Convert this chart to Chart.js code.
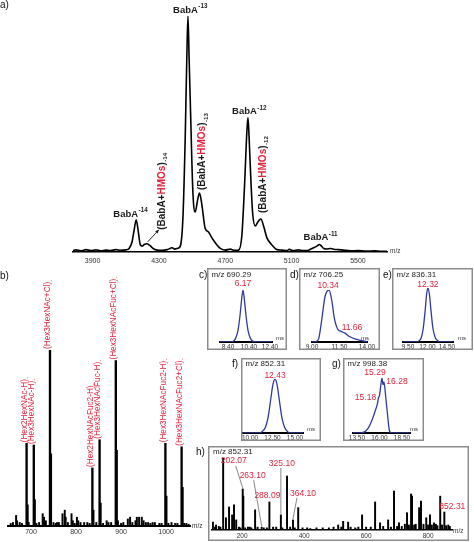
<!DOCTYPE html>
<html>
<head>
<meta charset="utf-8">
<title>BabA native MS and HMO IM-MS</title>
<script src="https://cdn.jsdelivr.net/npm/chart.js@4.4.1/dist/chart.umd.min.js"></script>
<style>
  body { margin: 0; background: #fff; }
  #fig { position: relative; width: 474px; height: 542px; overflow: hidden; font-family: "Liberation Sans", Arial, sans-serif; }
  #fig canvas { position: absolute; }
  .tag { position: absolute; font-size: 10px; line-height: 10px; color: #111; }
</style>
</head>
<body>
<div id="fig">
  <canvas id="pa"></canvas>
  <canvas id="pb"></canvas>
  <canvas id="pc"></canvas>
  <canvas id="pd"></canvas>
  <canvas id="pe"></canvas>
  <canvas id="pf"></canvas>
  <canvas id="pg"></canvas>
  <canvas id="ph"></canvas>
  <div class="tag" style="left:0;top:0">a)</div>
  <div class="tag" style="left:0;top:271px">b)</div>
  <div class="tag" style="left:199px;top:270px">c)</div>
  <div class="tag" style="left:290px;top:270px">d)</div>
  <div class="tag" style="left:383px;top:270px">e)</div>
  <div class="tag" style="left:232px;top:359px">f)</div>
  <div class="tag" style="left:332px;top:359px">g)</div>
  <div class="tag" style="left:196px;top:447px">h)</div>
</div>
<script>
// a) native MS of BabA (traced from the spectrum)
const specA_mz = [3782, 3800, 3830, 3860, 3890, 3920, 3950, 3980, 4010, 4040, 4070, 4100, 4120, 4137, 4150, 4163, 4175, 4188, 4200, 4212,
  4227, 4245, 4265, 4290, 4320, 4350, 4370, 4380, 4395, 4415, 4429, 4445, 4459, 4468, 4475, 4482, 4489, 4505, 4519, 4533,
  4545, 4559, 4579, 4599, 4615, 4629, 4650, 4670, 4700, 4730, 4755, 4780, 4800, 4816, 4831, 4837, 4844, 4851, 4865, 4881,
  4895, 4905, 4915, 4931, 4951, 4981, 5012, 5040, 5073, 5085, 5110, 5140, 5170, 5193, 5223, 5253, 5267, 5280, 5293, 5313,
  5333, 5353, 5380, 5410, 5453, 5500, 5550, 5600, 5640, 5675];
const specA_int = [0.6, 0.9, 0.5, 1.0, 0.6, 0.9, 0.5, 0.8, 0.6, 1.0, 0.7, 0.9, 1.5, 4, 9, 13.6, 9, 3, 2.5, 3.2,
  3.5, 2.8, 1.5, 0.8, 0.7, 1.0, 1.6, 1.8, 1.2, 1.6, 2.5, 15, 50, 82, 100, 82, 64, 25, 17, 22,
  25, 20, 10, 8.5, 6.5, 5, 3, 1.5, 0.8, 1.2, 0.7, 0.8, 7, 28, 52, 57, 48, 36, 16.5, 11,
  12.5, 13.5, 14, 11, 6, 3, 1, 0.8, 0.6, 1.1, 0.6, 0.9, 0.6, 0.6, 1.5, 2.5, 3.2, 2.5, 1.5, 1.3,
  1.5, 1.2, 1.0, 0.8, 0.5, 0.6, 0.4, 0.5, 0.3, 0.3];
const specA_ticks = [3900, 4300, 4700, 5100, 5500];
const babA_mz = [4163, 4475, 4837, 5267];
const babA_int = [13.6, 100, 57, 3.2];
const babA_z = ['-14', '-13', '-12', '-11'];
const hmo_mz = [4227, 4545, 4915];
const hmo_int = [3.5, 25, 14];
const hmo_z = ['-14', '-13', '-12'];

// b) HMO region
const specB_mz = [690.29, 692.3, 706.25, 708.2, 742.2, 744.2, 836.31, 838.3, 852.31, 854.3, 888.3, 890.3, 998.38, 1000.4, 1034.4, 1036.4];
const specB_int = [47, 12, 46, 15, 100, 41, 33, 9, 49, 13, 94, 43, 47, 17, 45, 22];
const minorB_mz = [655, 660, 667, 669, 675, 680, 695, 712, 718, 726, 729, 733, 750, 755, 758, 762, 770, 775, 777, 782,
  790, 793, 797, 802, 805, 810, 818, 825, 830, 845, 860, 868, 872, 878, 893, 900, 905, 915, 920, 925,
  932, 935, 940, 946, 950, 955, 960, 965, 970, 975, 985, 990, 1005, 1012, 1020, 1025, 1040, 1045, 1050];
const minorB_int = [1.5, 2, 6, 3, 2, 1.5, 2, 1.5, 2, 7, 5, 3, 2, 1.5, 2, 2, 7, 9, 5, 2,
  7, 3, 1.5, 5, 3, 2, 2, 2, 1.5, 2, 1.5, 3, 2, 2, 3, 1.5, 2, 4, 5, 2,
  3, 5, 5, 5, 3, 2, 2, 1.5, 2, 2, 1.5, 1.5, 1.5, 2, 1.5, 1.5, 1.5, 1.5, 1];
const specB_ticks = [700, 800, 900, 1000];
const labB_mz = [690.29, 706.25, 742.2, 836.31, 852.31, 888.3, 998.38, 1034.4];
const labB_txt = ['(Hex2HexNAc-H)', '(Hex3HexNAc-H)', '(Hex3HexNAc+Cl)', '(Hex2HexNAcFuc2-H)',
  '(Hex3HexNAcFuc-H)', '(Hex3HexNAcFuc+Cl)', '(Hex3HexNAcFuc2-H)', '(Hex3HexNAcFuc2+Cl)'];

// c-g) arrival time distributions
const atdC_ms = [7.64, 8.5, 8.85, 9.1, 9.35, 9.55, 9.7, 9.83, 9.96, 10.11, 10.31, 10.56, 10.81, 11.2, 12.59];
const atdC_int = [0, 0, 1, 6, 22, 52, 82, 100, 82, 52, 22, 6, 1, 0, 0];
const atdD_ms = [9.0, 9.3, 9.6, 9.88, 10.18, 10.55, 10.79, 11.03, 11.33, 11.7, 12.0, 12.45, 13.06, 13.67, 14.0];
const atdD_int = [0, 0.5, 6, 42, 87, 100, 81, 46, 25, 20, 17, 10, 5, 2, 0.5];
const atdE_ms = [8.86, 10.6, 10.9, 11.2, 11.45, 11.7, 11.9, 12.06, 12.25, 12.45, 12.7, 13.0, 13.35, 13.7, 15.27];
const atdE_int = [0, 0, 2, 8, 25, 58, 90, 100, 88, 58, 25, 8, 2, 0, 0];
const atdF_ms = [9.22, 10.9, 11.3, 11.7, 12.0, 12.3, 12.55, 12.78, 13.0, 13.25, 13.55, 13.85, 14.2, 14.6, 15.89];
const atdF_int = [0, 0, 2, 10, 28, 62, 90, 100, 90, 62, 28, 10, 2, 0, 0];
const atdG_ms = [13.06, 14.0, 14.67, 15.11, 15.44, 15.78, 15.89, 16.0, 16.11, 16.28, 16.39, 16.5, 16.67, 16.89, 17.11, 17.33, 19.39];
const atdG_int = [0, 0, 7, 21, 36, 54, 64, 68, 82, 100, 88, 93, 70, 34, 4, 0, 0];
const ticksC = [8.4, 10.4, 12.4], ticksD = [9, 11.5, 14], ticksE = [9.5, 12, 14.5], ticksF = [10, 12.5, 15], ticksG = [13.5, 16, 18.5];

// h) MS/MS of m/z 852.31
const specH_mz = [106, 112, 116, 125, 130, 139, 148, 158, 168, 174, 181, 190, 195, 202.07, 204, 210, 219, 225, 230, 242,
  250, 263.1, 270, 280, 288.09, 300, 310, 325.1, 330, 345, 355, 364.1, 370, 381, 395, 410, 420, 440, 460, 480,
  495, 510, 520, 526, 542, 550, 565, 575, 587, 600, 615, 629, 645, 655, 671, 680, 690, 700, 706, 715,
  725, 732, 738, 745, 748, 755, 760, 771, 777, 785, 794, 800, 806, 812, 819, 825, 830, 839, 845, 852.31,
  858, 865, 870];
const specH_int = [11, 4, 7, 5, 4, 100, 17, 32, 21, 35, 14, 4, 3, 57, 47, 3, 4, 4, 3, 28,
  4, 4, 3, 3, 39, 4, 4, 21, 3, 75, 4, 14, 3, 31, 3, 3, 2, 3, 3, 3,
  4, 7, 4, 12, 11, 4, 3, 4, 21, 4, 4, 39, 10, 5, 14, 4, 54, 5, 10, 5,
  8, 24, 7, 50, 47, 7, 8, 31, 40, 8, 17, 7, 21, 7, 10, 8, 6, 47, 7, 25,
  6, 7, 5];
const specH_ticks = [200, 400, 600, 800];
const labH_mz = [202.07, 263.1, 288.09, 325.1, 364.1, 852.31];

const FONT = '"Liberation Sans", Arial, sans-serif';
const RED = '#e2243e';
const BLUE = '#2e3b9c';
const INK = '#1a1a1a';
Chart.defaults.font.family = FONT;

function put(id, L, T, W, H) {
  const c = document.getElementById(id);
  c.width = W; c.height = H;
  c.style.left = L + 'px'; c.style.top = T + 'px';
  c.style.width = W + 'px'; c.style.height = H + 'px';
  return c;
}
function font(size, bold) { return (bold ? 'bold ' : '') + size + 'px ' + FONT; }
function pts(xs, ys) { return xs.map((v, i) => ({ x: v, y: ys[i] })); }

function xScale(min, max, ticks, size, axisH, dec, bw, pad) {
  return {
    type: 'linear', min: min, max: max, offset: false,
    grid: { display: false, drawTicks: false, tickLength: 0 },
    border: { display: true, color: '#000', width: bw },
    ticks: { font: { size: size }, color: '#333', padding: pad, autoSkip: false, maxRotation: 0,
      callback: v => dec ? v.toFixed(dec) : String(v) },
    afterBuildTicks: s => { s.ticks = ticks.map(v => ({ value: v })); },
    afterFit: s => { s.height = axisH; s.paddingLeft = 0; s.paddingRight = 0; }
  };
}
function opts(pad, x) {
  return {
    responsive: false, animation: false, devicePixelRatio: 1, events: [],
    layout: { padding: pad },
    plugins: { legend: { display: false }, tooltip: { enabled: false } },
    scales: { x: x, y: { display: false, min: 0, max: 100 } }
  };
}

// horizontal bold label with superscript charge
function supText(ctx, cx, base, main, sup, size, color) {
  ctx.font = font(size, true);
  const w1 = ctx.measureText(main).width;
  ctx.font = font(size * 0.66, true);
  const w2 = ctx.measureText(sup).width;
  const x0 = cx - (w1 + w2) / 2;
  ctx.textAlign = 'left'; ctx.textBaseline = 'alphabetic'; ctx.fillStyle = color;
  ctx.font = font(size, true); ctx.fillText(main, x0, base);
  ctx.font = font(size * 0.66, true); ctx.fillText(sup, x0 + w1 + 0.5, base - size * 0.5);
}
// vertical text reading bottom to top, yb = bottom end
function vText(ctx, x, yb, parts, sup, size, bold, supColor) {
  ctx.save();
  ctx.translate(x, yb); ctx.rotate(-Math.PI / 2);
  ctx.textAlign = 'left'; ctx.textBaseline = 'middle';
  ctx.font = font(size, bold);
  let cx = 0;
  for (const [t, c] of parts) { ctx.fillStyle = c; ctx.fillText(t, cx, 0); cx += ctx.measureText(t).width; }
  if (sup) {
    ctx.font = font(size * 0.62, bold); ctx.fillStyle = supColor;
    ctx.fillText(sup, cx + 0.5, size * 0.38);
  }
  ctx.restore();
}

// ---------- a) ----------
const annotA = {
  id: 'annotA',
  afterDraw(chart) {
    const ctx = chart.ctx, xs = chart.scales.x, ys = chart.scales.y, a = chart.chartArea;
    ctx.save();
    const dxA = [-6, 2, 1, 1], dyA = [-3, -3, -3, -4];
    babA_mz.forEach((m, i) => supText(ctx, xs.getPixelForValue(m) + dxA[i], ys.getPixelForValue(babA_int[i]) + dyA[i], 'BabA', babA_z[i], 9.5, INK));
    const dxH = [15, 3, 2], dyH = [-14, -3, -6];
    hmo_mz.forEach((m, i) => {
      vText(ctx, xs.getPixelForValue(m) + dxH[i], ys.getPixelForValue(hmo_int[i]) + dyH[i],
        [['(BabA+', INK], ['HMOs', RED], [')', INK]], hmo_z[i], 10, true, INK);
    });
    // arrow to the -14 adduct shoulder
    const x0 = xs.getPixelForValue(hmo_mz[0]) + 1, y0 = ys.getPixelForValue(hmo_int[0]) - 2;
    const x1 = x0 + 11, y1 = y0 - 12;
    ctx.strokeStyle = INK; ctx.fillStyle = INK; ctx.lineWidth = 0.9;
    ctx.beginPath(); ctx.moveTo(x0, y0); ctx.lineTo(x1, y1); ctx.stroke();
    const ang = Math.atan2(y1 - y0, x1 - x0);
    ctx.beginPath(); ctx.moveTo(x1, y1);
    ctx.lineTo(x1 - 4 * Math.cos(ang - 0.45), y1 - 4 * Math.sin(ang - 0.45));
    ctx.lineTo(x1 - 4 * Math.cos(ang + 0.45), y1 - 4 * Math.sin(ang + 0.45));
    ctx.closePath(); ctx.fill();
    ctx.font = font(6.5); ctx.fillStyle = '#333'; ctx.textAlign = 'left'; ctx.textBaseline = 'middle';
    ctx.fillText('m/z', a.right + 3, a.bottom - 1);
    ctx.restore();
  }
};
new Chart(put('pa', 0, 0, 474, 268), {
  type: 'line',
  data: { datasets: [{ data: pts(specA_mz, specA_int), borderColor: '#000', borderWidth: 1.6, pointRadius: 0, cubicInterpolationMode: 'monotone' }] },
  options: opts({ left: 73, right: 87, top: 16, bottom: 0 }, xScale(3782, 5675, specA_ticks, 7, 16, 0, 1.6, 5)),
  plugins: [annotA]
});

// ---------- b) ----------
const annotB = {
  id: 'annotB',
  afterDraw(chart) {
    const ctx = chart.ctx, xs = chart.scales.x, ys = chart.scales.y, a = chart.chartArea;
    ctx.save();
    labB_mz.forEach((m, i) => {
      const h = specB_int[specB_mz.indexOf(m)];
      vText(ctx, xs.getPixelForValue(m) - 2, ys.getPixelForValue(h) - 1, [[labB_txt[i], RED]], '-', 8.2, false, RED);
    });
    ctx.font = font(6.5); ctx.fillStyle = '#333'; ctx.textAlign = 'left'; ctx.textBaseline = 'middle';
    ctx.fillText('m/z', a.right + 2, a.bottom);
    ctx.restore();
  }
};
new Chart(put('pb', 0, 270, 210, 272), {
  type: 'bar',
  data: { datasets: [
    { data: pts(specB_mz, specB_int), backgroundColor: '#000', barThickness: 1.7, borderWidth: 0, grouped: false },
    { data: pts(minorB_mz, minorB_int), backgroundColor: '#000', barThickness: 1.3, borderWidth: 0, grouped: false }
  ] },
  options: opts({ left: 8, right: 20, top: 80, bottom: 0 }, xScale(649, 1053, specB_ticks, 7, 16, 0, 2, 2)),
  plugins: [annotB]
});

// ---------- c-g) ----------
function atd(id, L, T, W, H, area, min, max, xs_, ys_, ticks, title, titleY, labMs, labInt, labTxt, labOff, msDx) {
  const pad = { left: area[0] - L, right: L + W - area[2], top: area[1] - T, bottom: 0 };
  const x = xScale(min, max, ticks, 6.5, T + H - area[3], 2, 2, 1);
  x.z = 1;
  new Chart(put(id, L, T, W, H), {
    type: 'line',
    data: { datasets: [{ data: pts(xs_, ys_), borderColor: BLUE, borderWidth: 1.3, pointRadius: 0, cubicInterpolationMode: 'monotone' }] },
    options: opts(pad, x),
    plugins: [{
      id: 'box_' + id,
      afterDraw(chart) {
        const ctx = chart.ctx, sx = chart.scales.x, sy = chart.scales.y, a = chart.chartArea;
        ctx.save();
        ctx.strokeStyle = '#8c8c8c'; ctx.lineWidth = 1.5;
        ctx.strokeRect(0.75, 0.75, W - 1.5, H - 1.5);
        ctx.font = font(8); ctx.fillStyle = '#222'; ctx.textAlign = 'left'; ctx.textBaseline = 'middle';
        ctx.fillText(title, 4.5, titleY);
        ctx.font = font(8.5); ctx.fillStyle = RED; ctx.textAlign = 'center';
        labTxt.forEach((t, i) => ctx.fillText(t, sx.getPixelForValue(labMs[i]) + labOff[i][0], sy.getPixelForValue(labInt[i]) + labOff[i][1]));
        ctx.font = font(6); ctx.fillStyle = '#333'; ctx.textAlign = 'left'; ctx.textBaseline = 'alphabetic';
        ctx.fillText('ms', a.right + msDx, a.bottom - 2);
        ctx.restore();
      }
    }]
  });
}
atd('pc', 207, 268, 80, 82, [220, 290, 272, 342], 7.64, 12.59, atdC_ms, atdC_int, ticksC, 'm/z 690.29', 7,
  [9.83], [100], ['6.17'], [[0, -6]], 4);
atd('pd', 299, 268, 81, 82, [312, 290, 367, 342], 9.0, 14.0, atdD_ms, atdD_int, ticksD, 'm/z 706.25', 7,
  [10.55, 12.0], [100, 17], ['10.34', '11.66'], [[-1, -4.5], [7, -6]], -6);
atd('pe', 392, 268, 81, 82, [403, 288, 453, 342], 8.86, 15.27, atdE_ms, atdE_int, ticksE, 'm/z 836.31', 7,
  [12.06], [100], ['12.32'], [[0, -3.5]], 5);
atd('pf', 241, 358, 80, 83, [243, 379, 303, 433], 9.22, 15.89, atdF_ms, atdF_int, ticksF, 'm/z 852.31', 6,
  [12.78], [100], ['12.43'], [[0, -3.5]], 4);
atd('pg', 343, 358, 81, 83, [353, 378, 410, 433], 13.06, 19.39, atdG_ms, atdG_int, ticksG, 'm/z 998.38', 6,
  [16.28, 16.5, 16.0], [100, 93, 68], ['15.29', '16.28', '15.18'], [[-7, -5], [13, 0], [-14, 2]], 0);

// ---------- h) ----------
const annotH = {
  id: 'annotH',
  afterDraw(chart) {
    const ctx = chart.ctx, xs = chart.scales.x, ys = chart.scales.y, a = chart.chartArea;
    const W = chart.width, H = chart.height;
    ctx.save();
    ctx.strokeStyle = '#8c8c8c'; ctx.lineWidth = 1.5;
    ctx.strokeRect(0.75, 0.75, W - 1.5, H - 1.5);
    ctx.font = font(8); ctx.fillStyle = '#222'; ctx.textAlign = 'left'; ctx.textBaseline = 'middle';
    ctx.fillText('m/z 852.31', 5, 6);
    // label centre offsets and leader-line start offsets relative to the peak top
    const lab = [[-9, -28, -7, -23], [-9, -51, -8, -47], [-2, -6, null, null], [1, -51, 0, -47], [10, -26, 4, -22], [8, -5, null, null]];
    labH_mz.forEach((m, i) => {
      const px = xs.getPixelForValue(m), py = ys.getPixelForValue(specH_int[specH_mz.indexOf(m)]);
      const o = lab[i];
      if (o[2] !== null) {
        ctx.strokeStyle = '#555'; ctx.lineWidth = 0.7;
        ctx.beginPath(); ctx.moveTo(px + o[2], py + o[3]); ctx.lineTo(px, py - 1); ctx.stroke();
      }
      ctx.font = font(8.5); ctx.fillStyle = RED; ctx.textAlign = 'center'; ctx.textBaseline = 'middle';
      ctx.fillText(m.toFixed(2), px + o[0], py + o[1]);
    });
    ctx.font = font(6.5); ctx.fillStyle = '#333'; ctx.textAlign = 'left'; ctx.textBaseline = 'middle';
    ctx.fillText('m/z', a.right + 1, a.bottom + 1);
    ctx.restore();
  }
};
new Chart(put('ph', 208, 446, 261, 95), {
  type: 'bar',
  data: { datasets: [{ data: pts(specH_mz, specH_int), backgroundColor: '#000', barThickness: 1.3, borderWidth: 0 }] },
  options: opts({ left: 4, right: 17, top: 12, bottom: 0 }, xScale(103, 877, specH_ticks, 6.5, 11, 0, 1.5, 2)),
  plugins: [annotH]
});
</script>
</body>
</html>
